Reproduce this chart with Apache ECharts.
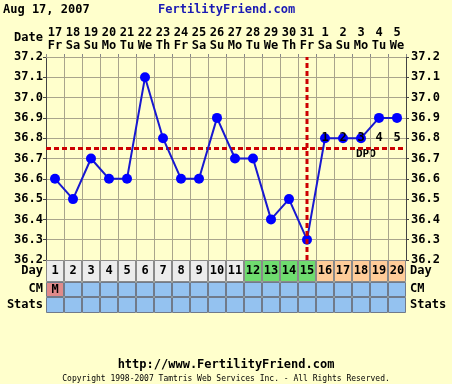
<!DOCTYPE html>
<html><head><meta charset="utf-8">
<script src="https://cdn.jsdelivr.net/npm/echarts@6/dist/echarts.min.js"></script>
<style>html,body{margin:0;padding:0;background:#ffffcc;}#c{width:452px;height:384px;}</style>
</head><body><div id="c"></div>
<script>
const dates = ['17','18','19','20','21','22','23','24','25','26','27','28','29','30','31','1','2','3','4','5'];
const weekdays = ['Fr','Sa','Su','Mo','Tu','We','Th','Fr','Sa','Su','Mo','Tu','We','Th','Fr','Sa','Su','Mo','Tu','We'];
const cycleDays = [1,2,3,4,5,6,7,8,9,10,11,12,13,14,15,16,17,18,19,20];
const temps = [36.6,36.5,36.7,36.6,36.6,37.1,36.8,36.6,36.6,36.9,36.7,36.7,36.4,36.5,36.3,36.8,36.8,36.8,36.9,36.9];
const coverline = 36.75;
const ovulationIndex = 14;
const dpoIndex = [15,16,17,18,19];
const dpoLabels = ['1','2','3','4','5'];
const dpoLevel = 36.8;
const dayPhase = ['n','n','n','n','n','n','n','n','n','n','n','f','f','f','f','l','l','l','l','l'];
const cmValues = ['M','','','','','','','','','','','','','','','','','','',''];
const yTicks = {min:36.2, max:37.2, interval:0.1};

const FONT = 'DejaVu Sans Mono';
const phaseColor = {n:'#ececec', f:'#6fdc6f', l:'#ffcc99'};
const cats = dates.map((d,i)=>d+'\n'+weekdays[i]);

const chart = echarts.init(document.getElementById('c'), null, {renderer:'canvas'});
const rowGrid = (top,h)=>({left:46, width:360, top:top, height:h});
const rowX = (gi)=>({type:'category', gridIndex:gi, data:cycleDays.map(String), boundaryGap:true,
  axisLine:{show:false}, axisTick:{show:false}, axisLabel:{show:false}, splitLine:{show:false}});
const rowY = (gi)=>({type:'value', gridIndex:gi, min:0, max:1, show:false});
const labelStyle = {fontFamily:FONT, fontWeight:'bold', fontSize:12, color:'#000', textBorderWidth:0, textBorderColor:'transparent'};
const redDash = {color:'#cc0000', width:3, type:[5,3]};

const option = {
  backgroundColor:'#ffffcc',
  animation:false,
  grid:[
    {left:46, width:360, top:57, height:203},
    rowGrid(260,22), rowGrid(282,15), rowGrid(297,16)
  ],
  xAxis:[
    {type:'category', gridIndex:0, position:'top', data:cats, boundaryGap:true,
     axisLine:{show:true, lineStyle:{color:'#a9a58c'}},
     axisTick:{show:true, length:3, lineStyle:{color:'#888'}},
     axisLabel:{fontFamily:FONT, fontWeight:'bold', fontSize:12, color:'#000', lineHeight:13, margin:5, interval:0},
     splitLine:{show:true, lineStyle:{color:'#a9a58c', width:1}}},
    rowX(1), rowX(2), rowX(3)
  ],
  yAxis:[
    {type:'value', gridIndex:0, min:yTicks.min, max:yTicks.max, interval:yTicks.interval, position:'left',
     axisLine:{show:true, lineStyle:{color:'#444'}}, axisTick:{show:true, length:3, lineStyle:{color:'#444'}},
     axisLabel:{fontFamily:FONT, fontWeight:'bold', fontSize:12, color:'#000', margin:3, formatter:v=>v.toFixed(1)},
     splitLine:{show:true, lineStyle:{color:'#a9a58c', width:1}}},
    {type:'value', gridIndex:0, min:yTicks.min, max:yTicks.max, interval:yTicks.interval, position:'right',
     axisLine:{show:true, lineStyle:{color:'#444'}}, axisTick:{show:true, length:3, lineStyle:{color:'#444'}},
     axisLabel:{fontFamily:FONT, fontWeight:'bold', fontSize:12, color:'#000', margin:5, formatter:v=>v.toFixed(1)},
     splitLine:{show:false}},
    rowY(1), rowY(2), rowY(3)
  ],
  series:[
    {type:'line', xAxisIndex:0, yAxisIndex:0, data:temps, z:3,
     lineStyle:{color:'#1818d0', width:2}, symbol:'circle', symbolSize:10,
     itemStyle:{color:'#0000ff'},
     markLine:{silent:true, symbol:'none', label:{show:false}, z:2,
       data:[{yAxis:coverline, lineStyle:redDash}]}},
    {type:'line', xAxisIndex:0, yAxisIndex:0, z:4, symbol:'none', silent:true,
     data:[[ovulationIndex, yTicks.min],[ovulationIndex, yTicks.max]],
     lineStyle:redDash},
    {type:'line', xAxisIndex:0, yAxisIndex:0, z:5, symbol:'circle', symbolSize:1, showSymbol:true,
     lineStyle:{opacity:0}, itemStyle:{color:'transparent', opacity:1},
     data:dpoIndex.map((x,i)=>[x,dpoLevel]),
     label:{show:true, position:'inside', ...labelStyle, opacity:1,
       formatter:p=>dpoLabels[p.dataIndex]}},
    {type:'bar', xAxisIndex:1, yAxisIndex:2, barWidth:'100%', barGap:0, z:4,
     data:cycleDays.map((d,i)=>({value:1, itemStyle:{color:phaseColor[dayPhase[i]], borderColor:'#8a8a8a', borderWidth:1}})),
     label:{show:true, position:'inside', ...labelStyle, formatter:p=>String(cycleDays[p.dataIndex])}},
    {type:'bar', xAxisIndex:2, yAxisIndex:3, barWidth:'100%', barGap:0, z:4,
     data:cmValues.map(v=>({value:1, itemStyle:{color: v ? '#e08a8a' : '#94c2f0', borderColor:'#707a8a', borderWidth:1}})),
     label:{show:true, position:'inside', ...labelStyle, formatter:p=>cmValues[p.dataIndex]}},
    {type:'bar', xAxisIndex:3, yAxisIndex:4, barWidth:'100%', barGap:0, z:4,
     data:cycleDays.map(()=>({value:1, itemStyle:{color:'#94c2f0', borderColor:'#707a8a', borderWidth:1}}))}
  ],
  graphic:[
    {type:'text', left:3, top:4, style:{text:'Aug 17, 2007', font:'bold 12px '+FONT, fill:'#000'}},
    {type:'text', left:158, top:4, style:{text:'FertilityFriend.com', font:'bold 12px '+FONT, fill:'#1a1ab4'}},
    {type:'text', right:409, top:32, style:{text:'Date', font:'bold 12px '+FONT, fill:'#000', textAlign:'right'}},
    {type:'text', left:356, top:149, style:{text:'DPO', font:'bold 11px '+FONT, fill:'#000'}},
    {type:'text', right:409, top:265, style:{text:'Day', font:'bold 12px '+FONT, fill:'#000'}},
    {type:'text', right:409, top:283, style:{text:'CM', font:'bold 12px '+FONT, fill:'#000'}},
    {type:'text', right:409, top:299, style:{text:'Stats', font:'bold 12px '+FONT, fill:'#000'}},
    {type:'text', left:410, top:265, style:{text:'Day', font:'bold 12px '+FONT, fill:'#000'}},
    {type:'text', left:410, top:283, style:{text:'CM', font:'bold 12px '+FONT, fill:'#000'}},
    {type:'text', left:410, top:299, style:{text:'Stats', font:'bold 12px '+FONT, fill:'#000'}},
    {type:'text', left:'center', top:359, style:{text:'http://www.FertilityFriend.com', font:'bold 12px '+FONT, fill:'#000'}},
    {type:'text', left:'center', top:375, style:{text:'Copyright 1998-2007 Tamtris Web Services Inc. - All Rights Reserved.', font:'8px '+FONT, fill:'#000'}}
  ]
};
chart.setOption(option);
</script></body></html>
